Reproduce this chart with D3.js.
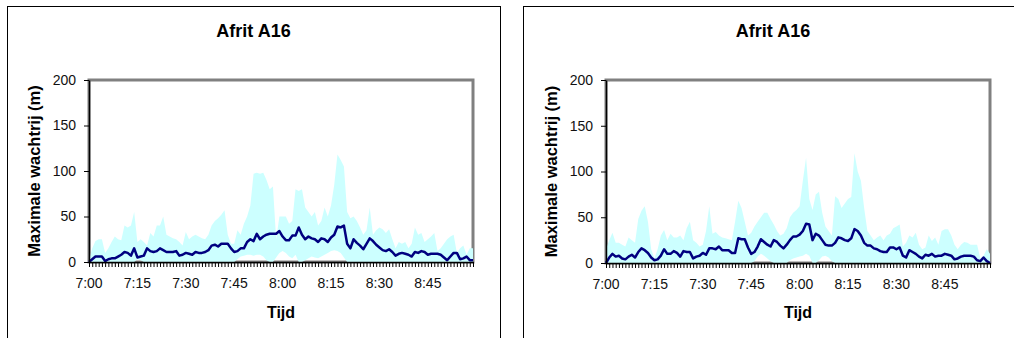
<!DOCTYPE html>
<html>
<head>
<meta charset="utf-8">
<script src="https://cdn.jsdelivr.net/npm/d3@7"></script>
<style>
  body { margin: 0; background: #fff; }
  svg { display: block; font-family: Arial, "Liberation Sans", sans-serif; }
</style>
</head>
<body>
<svg id="chart" width="1014" height="338"></svg>
<script>
const chartTitle = "Afrit A16";
const yTitle = "Maximale wachtrij (m)";
const xTitle = "Tijd";

// one category per minute, 7:00 .. 8:59
const minutes = d3.range(120);
const xTickIdx = [0, 15, 30, 45, 60, 75, 90, 105];
const xTickLabels = ["7:00", "7:15", "7:30", "7:45", "8:00", "8:15", "8:30", "8:45"];
const yTicks = [0, 50, 100, 150, 200];

// left chart
const leftMean = [
  0, 3, 6, 6, 6, 1, 3, 4, 4, 6,
  8, 11, 10, 7, 15, 5, 6, 7, 15, 12,
  11, 12, 15, 13, 11, 11, 11, 12, 7, 8,
  10, 9, 8, 11, 10, 10, 11, 13, 18, 19,
  17, 20, 20, 20, 15, 11, 12, 15, 15, 22,
  25, 23, 31, 25, 28, 30, 31, 31, 31, 34,
  28, 24, 24, 29, 29, 38, 30, 25, 28, 26,
  25, 22, 26, 25, 22, 27, 30, 39, 38, 40,
  20, 15, 25, 21, 18, 14, 20, 26, 23, 19,
  16, 13, 12, 14, 11, 7, 9, 10, 9, 8,
  6, 11, 10, 12, 11, 8, 9, 9, 9, 8,
  5, 2, 6, 10, 10, 3, 4, 6, 2, 2
];
const leftMax = [
  2, 15, 23, 25, 25, 10, 15, 22, 28, 25,
  24, 40, 38, 40, 55, 22, 25, 22, 18, 32,
  28, 40, 40, 50, 30, 28, 26, 25, 22, 18,
  33, 25, 28, 30, 28, 26, 25, 30, 40, 45,
  48, 52, 57, 30, 20, 20, 35, 30, 42, 50,
  62, 97, 98, 97, 98, 90, 80, 83, 25, 50,
  50, 50, 42, 45, 80, 78, 80, 60, 55, 50,
  55, 40, 45, 60, 50, 62, 85, 118, 112, 105,
  55, 48, 50, 45, 38, 30, 35, 60, 30, 35,
  38, 36, 32, 36, 25, 15, 22, 20, 22, 15,
  20, 38, 30, 32, 22, 25, 28, 32, 12, 15,
  20, 25, 28, 30, 10, 15, 18, 8, 15, 15
];
const leftMin = [
  0, 0, 0, 0, 0, 0, 0, 0, 0, 0,
  0, 0, 0, 0, 0, 3, 2, 0, 0, 0,
  0, 0, 0, 0, 0, 0, 0, 0, 0, 0,
  0, 0, 0, 0, 0, 0, 0, 0, 0, 0,
  0, 0, 0, 0, 0, 0, 3, 6, 7, 8,
  8, 7, 8, 8, 6, 2, 0, 0, 5, 10,
  12, 10, 6, 4, 8, 0, 0, 2, 4, 6,
  5, 4, 6, 8, 10, 12, 13, 12, 10, 5,
  0, 0, 0, 0, 0, 0, 0, 0, 0, 0,
  0, 0, 0, 0, 0, 0, 0, 0, 0, 0,
  0, 0, 0, 0, 0, 0, 0, 0, 0, 0,
  0, 0, 0, 0, 0, 0, 0, 0, 0, 0
];

// right chart
const rightMean = [
  0, 6, 10, 7, 8, 5, 4, 7, 9, 6,
  12, 16, 14, 11, 6, 3, 4, 8, 15, 10,
  10, 13, 11, 7, 13, 12, 12, 5, 7, 8,
  11, 9, 16, 16, 15, 18, 14, 14, 14, 11,
  11, 27, 26, 26, 17, 10, 12, 18, 26, 23,
  20, 18, 25, 23, 19, 16, 20, 25, 29, 29,
  31, 35, 43, 42, 25, 32, 30, 25, 20, 19,
  19, 22, 28, 27, 25, 24, 27, 37, 35, 30,
  22, 19, 19, 16, 15, 13, 12, 12, 17, 17,
  15, 17, 8, 6, 14, 12, 10, 7, 5, 9,
  8, 10, 7, 8, 8, 10, 9, 8, 4, 5,
  7, 8, 8, 8, 7, 3, 2, 6, 2, 0
];
const rightMax = [
  15, 25, 33, 22, 22, 20, 18, 28, 25, 22,
  48, 57, 62, 45, 15, 5, 15, 30, 36, 25,
  32, 28, 28, 30, 25, 38, 45, 25, 22, 18,
  20, 35, 62, 32, 34, 30, 28, 27, 26, 25,
  45, 68, 60, 45, 30, 33, 40, 45, 50, 55,
  55, 48, 42, 35, 30, 32, 38, 50, 55, 58,
  62, 90, 115, 70, 58, 75, 78, 55, 40, 35,
  30, 73, 70, 60, 65, 70, 72, 120, 100, 90,
  60, 35, 30, 25, 28, 30, 25, 30, 32, 38,
  40, 42, 18, 22, 30, 28, 33, 20, 15, 17,
  30, 24, 28, 20, 35, 37, 37, 30, 20, 15,
  20, 23, 22, 20, 20, 20, 5, 8, 15, 10
];
const rightMin = [
  0, 0, 0, 0, 0, 0, 0, 0, 0, 0,
  0, 0, 0, 0, 0, 0, 0, 0, 0, 0,
  0, 0, 0, 0, 0, 0, 0, 0, 0, 0,
  0, 0, 0, 0, 0, 0, 0, 0, 0, 0,
  0, 0, 0, 0, 0, 0, 2, 7, 10, 8,
  5, 2, 0, 0, 0, 0, 0, 3, 5, 6,
  7, 8, 10, 8, 0, 0, 3, 7, 8, 6,
  2, 0, 0, 0, 0, 0, 0, 0, 0, 0,
  0, 0, 0, 0, 0, 0, 0, 0, 0, 0,
  0, 0, 0, 0, 0, 0, 0, 0, 0, 0,
  0, 0, 0, 0, 0, 0, 0, 0, 0, 0,
  0, 0, 0, 0, 0, 0, 0, 0, 0, 0
];

const svg = d3.select('#chart');

function drawPanel(cfg) {
  const { boxX, boxW, left, top, width, height, mean, max, min } = cfg;
  const g = svg.append('g');

  // chart area border (bottom runs off the picture)
  g.append('rect')
    .attr('x', boxX + 0.5).attr('y', 6.5)
    .attr('width', boxW).attr('height', 400)
    .attr('fill', '#fff').attr('stroke', '#000').attr('stroke-width', 1);

  g.append('text')
    .attr('x', boxX + boxW / 2).attr('y', 37)
    .attr('text-anchor', 'middle')
    .attr('font-size', '18px').attr('font-weight', 'bold')
    .text(chartTitle);

  const x = d3.scalePoint().domain(minutes).range([left, left + width]);
  const y = d3.scaleLinear().domain([0, 200]).range([top + height, top]);

  // plot area frame, gray
  g.append('rect')
    .attr('x', left).attr('y', top)
    .attr('width', width).attr('height', height)
    .attr('fill', 'none').attr('stroke', '#808080').attr('stroke-width', 3);

  const band = d3.area()
    .x((d) => x(d))
    .y0((d) => y(min[d]))
    .y1((d) => y(max[d]));
  g.append('path').datum(minutes)
    .attr('d', band)
    .attr('fill', '#ccffff');

  const line = d3.line()
    .x((d) => x(d))
    .y((d) => y(mean[d]));
  g.append('path').datum(minutes)
    .attr('d', line)
    .attr('fill', 'none')
    .attr('stroke', '#000080')
    .attr('stroke-width', 2.5)
    .attr('stroke-linejoin', 'round');

  // y axis
  const yAxis = g.append('g')
    .attr('transform', `translate(${left},0)`)
    .call(d3.axisLeft(y).tickValues(yTicks).tickSize(5).tickSizeOuter(0).tickPadding(8));
  yAxis.select('.domain').attr('stroke', '#000').attr('stroke-width', 1.5);
  yAxis.selectAll('.tick line').attr('stroke', '#000');
  yAxis.selectAll('.tick text')
    .attr('font-size', '14px').attr('font-family', null).attr('fill', '#111');

  // x axis, one tick per minute
  const xAxis = g.append('g')
    .attr('transform', `translate(0,${top + height})`)
    .call(d3.axisBottom(x).tickSize(5).tickSizeOuter(0).tickFormat(''));
  xAxis.select('.domain').attr('stroke', '#000').attr('stroke-width', 1.5);
  xAxis.selectAll('.tick line').attr('stroke', '#000');

  g.selectAll('.xlab')
    .data(xTickIdx)
    .enter()
    .append('text')
    .attr('class', 'xlab')
    .attr('x', (d) => x(d))
    .attr('y', top + height + 26)
    .attr('text-anchor', 'middle')
    .attr('font-size', '14px')
    .attr('fill', '#111')
    .text((d, i) => xTickLabels[i]);

  g.append('text')
    .attr('transform', `translate(${left - 49},${top + height / 2}) rotate(-90)`)
    .attr('text-anchor', 'middle')
    .attr('font-size', '16.5px').attr('font-weight', 'bold')
    .text(yTitle);

  g.append('text')
    .attr('x', left + width / 2).attr('y', 318)
    .attr('text-anchor', 'middle')
    .attr('font-size', '16px').attr('font-weight', 'bold')
    .text(xTitle);
}

drawPanel({ boxX: 7, boxW: 493, left: 89, top: 80, width: 384, height: 182,
  mean: leftMean, max: leftMax, min: leftMin });
drawPanel({ boxX: 523, boxW: 500, left: 606, top: 80, width: 384, height: 183,
  mean: rightMean, max: rightMax, min: rightMin });
</script>
</body>
</html>
